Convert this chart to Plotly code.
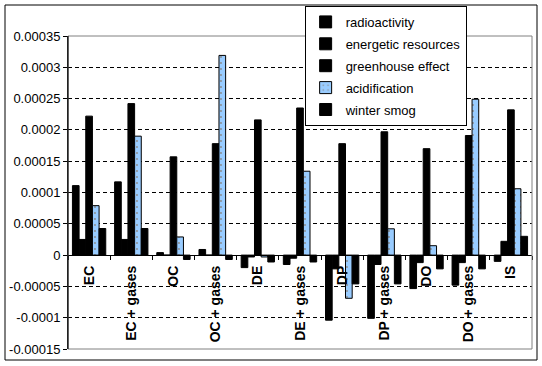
import plotly.graph_objects as go

categories = ["EC", "EC + gases", "OC", "OC + gases", "DE", "DE + gases",
              "DP", "DP + gases", "DO", "DO + gases", "IS"]
radioactivity = [1.11e-4, 1.17e-4, 4e-6, 9e-6, -2.0e-5, -1.5e-5,
                 -1.04e-4, -1.01e-4, -5.35e-5, -4.8e-5, -1.0e-5]
energetic_resources = [2.5e-5, 2.5e-5, 0.0, 0.0, -3e-6, -5e-6,
                       -2.2e-5, -1.5e-5, -1.2e-5, -1.2e-5, 2.2e-5]
greenhouse_effect = [2.22e-4, 2.42e-4, 1.57e-4, 1.78e-4, 2.16e-4, 2.35e-4,
                     1.78e-4, 1.97e-4, 1.70e-4, 1.91e-4, 2.32e-4]
acidification = [7.9e-5, 1.90e-4, 2.9e-5, 3.19e-4, -3e-6, 1.34e-4,
                 -6.9e-5, 4.2e-5, 1.5e-5, 2.49e-4, 1.06e-4]
winter_smog = [4.25e-5, 4.25e-5, -7e-6, -7e-6, -1.1e-5, -1.1e-5,
               -4.6e-5, -4.6e-5, -2.2e-5, -2.2e-5, 3.0e-5]

y_tickvals = [0.00035, 0.0003, 0.00025, 0.0002, 0.00015, 0.0001, 0.00005,
              0, -0.00005, -0.0001, -0.00015]
y_ticktext = ["0.00035", "0.0003", "0.00025", "0.0002", "0.00015", "0.0001",
              "0.00005", "0", "-0.00005", "-0.0001", "-0.00015"]

FONT = "Liberation Sans, Arial, sans-serif"

series = [
    ("radioactivity", radioactivity, "#000000"),
    ("energetic resources", energetic_resources, "#000000"),
    ("greenhouse effect", greenhouse_effect, "#000000"),
    ("acidification", acidification, "#99CCFF"),
    ("winter smog", winter_smog, "#000000"),
]

fig = go.Figure()
for i, (name, vals, col) in enumerate(series):
    marker = dict(color=col, line=dict(color="#000000", width=1))
    if name == "acidification":
        marker["pattern"] = dict(shape=".", size=6, solidity=0.08,
                                 fgcolor="#8a8a8a", bgcolor=col, fillmode="replace")
    fig.add_trace(go.Bar(name=name, x=categories, y=vals, marker=marker,
                         legendgroup=f"g{i}"))

ymin, ymax = -0.00015, 0.00035
fig.update_layout(
    width=542, height=366, autosize=False,
    margin=dict(l=68, r=10, t=36, b=17, autoexpand=False),
    paper_bgcolor="white", plot_bgcolor="white",
    barmode="group", bargap=0.21, bargroupgap=0,
    font=dict(family=FONT, size=13, color="black"),
    showlegend=True,
    legend=dict(x=0.51, y=1.096, xanchor="left", yanchor="top",
                bgcolor="white", bordercolor="black", borderwidth=1,
                font=dict(family=FONT, size=13, color="black"),
                itemwidth=30, tracegroupgap=2, traceorder="grouped"),
    xaxis=dict(type="category", anchor="free", position=(0 - ymin) / (ymax - ymin),
               showline=True, linecolor="black", linewidth=1,
               ticks="outside", tickson="boundaries", ticklen=4, tickcolor="black",
               tickangle=-90, showgrid=False, automargin=False, ticklabelstandoff=4,
               tickfont=dict(family=FONT, size=14, color="black", weight="bold")),
    yaxis=dict(range=[ymin, ymax], tickvals=y_tickvals, ticktext=y_ticktext,
               showline=True, linecolor="black", linewidth=1, automargin=False,
               ticks="outside", ticklen=4, tickcolor="black",
               showgrid=True, gridcolor="black", griddash="4px,3px", gridwidth=1,
               zeroline=True, zerolinecolor="black", zerolinewidth=1,
               tickfont=dict(family=FONT, size=13, color="black")),
    shapes=[
        dict(type="rect", xref="paper", yref="paper", x0=0, x1=1, y0=0, y1=1,
             line=dict(color="#808080", width=1), fillcolor="rgba(0,0,0,0)", layer="above"),
        dict(type="line", xref="paper", yref="paper", x0=0, x1=0, y0=0, y1=1,
             line=dict(color="black", width=1), layer="above"),
        dict(type="rect", xref="paper", yref="paper",
             x0=(5 - 68) / 464, x1=(537 - 68) / 464,
             y0=(349 - 360) / 313, y1=(349 - 5) / 313,
             line=dict(color="black", width=1), fillcolor="rgba(0,0,0,0)", layer="above"),
    ],
)

fig.write_html("out.html", config={"displayModeBar": False},
               post_script="document.body.style.margin='0';")
